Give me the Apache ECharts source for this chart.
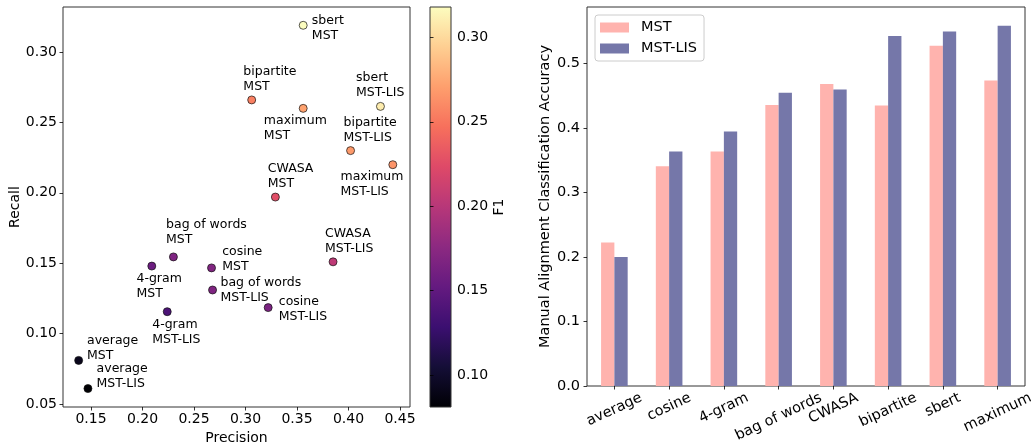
<!DOCTYPE html>
<html><head><meta charset="utf-8">
<script src="https://cdn.jsdelivr.net/npm/echarts@6/dist/echarts.min.js"></script>
<style>html,body{margin:0;padding:0;background:#fff}#c{width:1031px;height:443px}</style>
</head><body><div id="c"></div>
<script>
// ---------- data ----------
const methods = ['average', 'cosine', '4-gram', 'bag of words', 'CWASA', 'bipartite', 'sbert', 'maximum'];
// scatter (left panel)
const precisionMST = [0.138, 0.267, 0.209, 0.230, 0.329, 0.306, 0.356, 0.356];
const recallMST    = [0.081, 0.1467, 0.148, 0.1545, 0.197, 0.266, 0.319, 0.260];
const f1MST        = [0.092, 0.169, 0.157, 0.168, 0.226, 0.255, 0.318, 0.272];
const precisionLIS = [0.147, 0.322, 0.224, 0.268, 0.385, 0.402, 0.431, 0.443];
const recallLIS    = [0.061, 0.1185, 0.1156, 0.131, 0.151, 0.230, 0.2614, 0.220];
const f1LIS        = [0.081, 0.166, 0.138, 0.168, 0.204, 0.268, 0.309, 0.265];
// bars (right panel)
const accMST = [0.2226, 0.341, 0.364, 0.436, 0.4685, 0.435, 0.528, 0.474];
const accLIS = [0.200, 0.364, 0.395, 0.455, 0.460, 0.543, 0.550, 0.559];
// tick labels
const precisionTicks = [0.15, 0.20, 0.25, 0.30, 0.35, 0.40, 0.45];
const recallTicks = [0.05, 0.10, 0.15, 0.20, 0.25, 0.30];
const f1Ticks = [0.10, 0.15, 0.20, 0.25, 0.30];
const accTicks = [0.0, 0.1, 0.2, 0.3, 0.4, 0.5];
const seriesNames = ['MST', 'MST-LIS'];

// ---------- styling ----------
const FONT = '"DejaVu Sans", sans-serif';
const magma = ['#000004', '#140e36', '#3b0f70', '#641a80', '#8c2981', '#b73779', '#de4968', '#f7705c', '#fe9f6d', '#fecf92', '#fcfdbf'];
// label placement: [text-left dx, first-line-center dy] relative to point, in px
const labelPlace = {
  'average MST': [8.7, -19], 'average MST-LIS': [9, -19],
  'cosine MST': [11, -15.3], 'cosine MST-LIS': [11, -5],
  '4-gram MST': [-15, 12.7], '4-gram MST-LIS': [-14.7, 13],
  'bag of words MST': [-7, -31.6], 'bag of words MST-LIS': [8.3, -7.3],
  'CWASA MST': [-7.3, -27.7], 'CWASA MST-LIS': [-7.7, -28],
  'bipartite MST': [-8, -27.6], 'bipartite MST-LIS': [-6.7, -27.7],
  'sbert MST': [9, -4], 'sbert MST-LIS': [-24, -28],
  'maximum MST': [-39, 13], 'maximum MST-LIS': [-52, 12.7]
};
const SYM = 8, LH = 15;
function pt(m, i, tag, P, R, F) {
  const pl = labelPlace[m + ' ' + tag];
  return {
    value: [P[i], R[i], F[i]],
    label: { position: [pl[0] + SYM / 2, pl[1] - LH / 2 + SYM / 2] },
    labelText: m + '\n' + tag
  };
}
const scatterData = [];
methods.forEach((m, i) => {
  scatterData.push(pt(m, i, 'MST', precisionMST, recallMST, f1MST));
  scatterData.push(pt(m, i, 'MST-LIS', precisionLIS, recallLIS, f1LIS));
});

// rotated category labels: emulate matplotlib (rotated text, centred, tops aligned)
const ROT = 25, XFS = 14.5;
const mctx = document.createElement('canvas').getContext('2d');
mctx.font = XFS + 'px "DejaVu Sans"';
const widths = methods.map(m => mctx.measureText(m).width);
const wMin = Math.min(...widths);
const sr = Math.sin(ROT * Math.PI / 180), cr = Math.cos(ROT * Math.PI / 180);
const rich = {};
methods.forEach((m, i) => {
  const d = widths[i] - wMin;
  rich['p' + i] = { fontSize: XFS, fontFamily: FONT, color: '#000',
    padding: [d * sr * cr, d * sr * sr, 0, 0] };
});

const tickStyle = { show: true, length: 3.5, inside: false, lineStyle: { color: '#000', width: 0.8 } };
const chart = echarts.init(document.getElementById('c'), null, { renderer: 'canvas' });
chart.setOption({
  animation: false,
  backgroundColor: '#fff',
  textStyle: { fontFamily: FONT },
  grid: [
    { left: 63, top: 7, width: 347, height: 400, outerBoundsMode: 'none', containLabel: false,
      show: true, borderColor: '#333', borderWidth: 1, backgroundColor: 'transparent' },
    { left: 587, top: 7, width: 438, height: 379, outerBoundsMode: 'none', containLabel: false,
      show: true, borderColor: '#333', borderWidth: 1, backgroundColor: 'transparent' },
    { left: 430, top: 7, width: 21, height: 400, outerBoundsMode: 'none', containLabel: false,
      show: true, borderColor: '#333', borderWidth: 1,
      backgroundColor: { type: 'linear', x: 0, y: 1, x2: 0, y2: 0,
        colorStops: magma.map((c, k) => ({ offset: k / (magma.length - 1), color: c })) } }
  ],
  visualMap: {
    show: false, type: 'continuous', seriesIndex: 0, dimension: 2,
    min: 0.081, max: 0.318, inRange: { color: magma }
  },
  legend: {
    data: seriesNames, orient: 'vertical', left: 595, top: 15,
    itemWidth: 29, itemHeight: 10, itemGap: 6, icon: 'rect',
    padding: [5, 7, 5, 5], borderColor: '#ccc', borderWidth: 1, borderRadius: 3,
    textStyle: { fontSize: 14.5, fontFamily: FONT, color: '#000', padding: [0, 0, 0, 7] }
  },
  xAxis: [
    { gridIndex: 0, type: 'value', min: 0.1228, max: 0.4597,
      name: 'Precision', nameLocation: 'middle', nameGap: 21,
      nameTextStyle: { fontSize: 14, color: '#000', fontFamily: FONT },
      axisLine: { show: false }, splitLine: { show: false },
      axisTick: Object.assign({ customValues: precisionTicks }, tickStyle),
      axisLabel: { customValues: precisionTicks, fontSize: 14, color: '#000', margin: 5, formatter: v => v.toFixed(2) } },
    { gridIndex: 1, type: 'category', data: methods, boundaryGap: true,
      axisLine: { show: false }, splitLine: { show: false },
      axisTick: Object.assign({ alignWithLabel: true }, tickStyle),
      axisLabel: { interval: 0, rotate: ROT, align: 'center', verticalAlign: 'middle', margin: 19,
        formatter: (v, i) => '{p' + i + '|' + v + '}', rich: rich } },
    { gridIndex: 2, type: 'value', show: false, min: 0, max: 1 }
  ],
  yAxis: [
    { gridIndex: 0, type: 'value', min: 0.0479, max: 0.332,
      name: 'Recall', nameLocation: 'middle', nameGap: 40, nameRotate: 90,
      nameTextStyle: { fontSize: 14, color: '#000', fontFamily: FONT },
      axisLine: { show: false }, splitLine: { show: false },
      axisTick: Object.assign({ customValues: recallTicks }, tickStyle),
      axisLabel: { customValues: recallTicks, fontSize: 14, color: '#000', margin: 6, formatter: v => v.toFixed(2) } },
    { gridIndex: 1, type: 'value', min: 0, max: 0.588,
      name: 'Manual Alignment Classification Accuracy', nameLocation: 'middle', nameGap: 31.5, nameRotate: 90,
      nameTextStyle: { fontSize: 14.5, color: '#000', fontFamily: FONT },
      axisLine: { show: false }, splitLine: { show: false },
      axisTick: Object.assign({ customValues: accTicks }, tickStyle),
      axisLabel: { customValues: accTicks, fontSize: 14.5, color: '#000', margin: 7, formatter: v => v.toFixed(1) } },
    { gridIndex: 2, type: 'value', position: 'right', min: 0.081, max: 0.318,
      name: 'F1', nameLocation: 'middle', nameGap: 38, nameRotate: 90,
      nameTextStyle: { fontSize: 14, color: '#000', fontFamily: FONT },
      axisLine: { show: false }, splitLine: { show: false },
      axisTick: Object.assign({ customValues: f1Ticks }, tickStyle),
      axisLabel: { customValues: f1Ticks, fontSize: 14, color: '#000', margin: 6, formatter: v => v.toFixed(2) } }
  ],
  series: [
    { type: 'scatter', xAxisIndex: 0, yAxisIndex: 0, symbolSize: SYM,
      itemStyle: { borderColor: '#111', borderWidth: 0.7, opacity: 1 },
      label: { show: true, align: 'left', verticalAlign: 'top', lineHeight: LH,
        fontSize: 12.5, fontFamily: FONT, color: '#000',
        formatter: p => p.data.labelText },
      labelLayout: { hideOverlap: false },
      data: scatterData },
    { type: 'bar', name: seriesNames[0], xAxisIndex: 1, yAxisIndex: 1, data: accMST,
      barWidth: 13.3, barGap: '0%', itemStyle: { color: '#ffb3ae' } },
    { type: 'bar', name: seriesNames[1], xAxisIndex: 1, yAxisIndex: 1, data: accLIS,
      barWidth: 13.3, barGap: '0%', itemStyle: { color: '#7577a9' } }
  ]
});
</script></body></html>
